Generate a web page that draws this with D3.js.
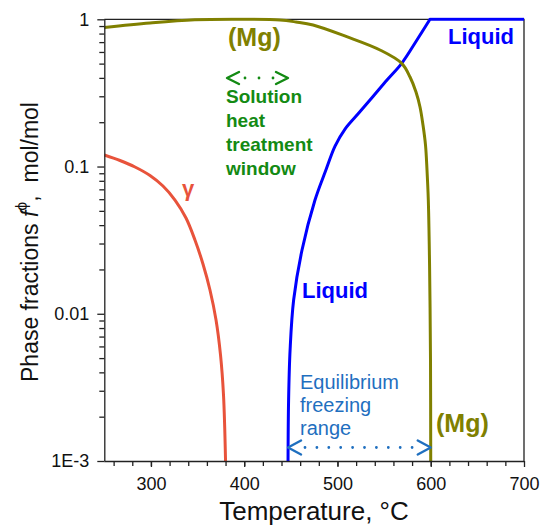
<!DOCTYPE html>
<html>
<head>
<meta charset="utf-8">
<script src="https://cdn.jsdelivr.net/npm/d3@7"></script>
<style>
  html, body { margin: 0; padding: 0; background: #fff; }
  svg { display: block; font-family: Arial, "Liberation Sans", Helvetica, sans-serif; }
</style>
</head>
<body>
<svg id="chart" width="541" height="525"></svg>
<script>
// Equilibrium phase fractions vs temperature (log scale)
const gammaT   = [250, 266.8, 282.9, 299.0, 312.9, 325.8, 337.6, 347.2, 355.8, 363.3, 369.8, 374.6, 377.8, 380];
const gammaF   = [0.1198, 0.1099, 0.0993, 0.0869, 0.0737, 0.0592, 0.0447, 0.0317, 0.02177, 0.0145, 0.00907, 0.00525, 0.00281, 0.001];

const liquidT  = [447, 447.6, 449.2, 453.0, 462.0, 475.9, 487.2, 497.4, 508.1, 523.1, 538.1, 553.1, 568.9, 584.2, 599.2, 700];
const liquidF  = [0.001, 0.0026, 0.00567, 0.0124, 0.0271, 0.0592, 0.0932, 0.1378, 0.1798, 0.2317, 0.299, 0.387, 0.5026, 0.7066, 1.0, 1.0];

const mgT      = [250, 299, 347, 395.5, 438.4, 455.5, 473.8, 509.9, 545.6, 568.9, 577.8, 584.2, 588.5, 591.7, 594.4, 596.0, 597.4, 598.5, 599.2, 599.75, 600];
const mgF      = [0.88, 0.944, 0.992, 1.0, 0.989, 0.959, 0.915, 0.762, 0.619, 0.502, 0.4055, 0.3208, 0.2537, 0.1914, 0.140, 0.0947, 0.0592, 0.0271, 0.0124, 0.00485, 0.001];

const xTicks      = [300, 400, 500, 600, 700];
const xMinorTicks = d3.range(260, 700, 20);
const yTicks      = [1, 0.1, 0.01, 0.001];
const yTickLabels = ["1", "0.1", "0.01", "1E-3"];

const svg = d3.select("#chart");
const pL = 104.3, pR = 524, pT = 19.3, pB = 461;

const x = d3.scaleLinear().domain([250, 700]).range([pL, pR]);
const y = d3.scaleLog().domain([0.001, 1]).range([pB, pT]);

svg.append("defs").append("clipPath").attr("id", "plot-clip")
  .append("rect").attr("x", pL).attr("y", pT - 2).attr("width", pR - pL).attr("height", pB - pT + 2);

// frame (top and right sides)
svg.append("path")
  .attr("d", `M${pL},${pT}H${pR}V${pB}`)
  .attr("fill", "none").attr("stroke", "#222").attr("stroke-width", 1.3);

// curves: smooth through the transition, straight once the fraction sits at 1
const smooth = d3.line().x(d => x(d[0])).y(d => y(d[1])).curve(d3.curveCatmullRom.alpha(0.5));
const straight = d3.line().x(d => x(d[0])).y(d => y(d[1]));
const curves = [
  { T: gammaT,  F: gammaF,  color: "#e8533b" },
  { T: liquidT, F: liquidF, color: "#0000ff" },
  { T: mgT,     F: mgF,     color: "#808000" }
];
const g = svg.append("g").attr("clip-path", "url(#plot-clip)");
curves.forEach(c => {
  const pts = c.T.map((t, i) => [t, c.F[i]]);
  let cut = pts.length;
  // trailing plateau at f = 1
  while (cut > 1 && pts[cut - 1][1] === 1 && pts[cut - 2][1] === 1) cut--;
  const head = pts.slice(0, cut), tail = pts.slice(cut - 1);
  const d = smooth(head) + (tail.length > 1 ? straight(tail).replace(/^M[^L]*/, "") : "");
  g.append("path")
    .attr("d", d)
    .attr("fill", "none")
    .attr("stroke", c.color)
    .attr("stroke-width", 3)
    .attr("stroke-linejoin", "round");
});

// x axis
const xMinorG = svg.append("g").attr("transform", `translate(0,${pB})`)
  .call(d3.axisBottom(x).tickValues(xMinorTicks).tickSize(5).tickFormat(""));
xMinorG.select(".domain").remove();
const xMajor = svg.append("g").attr("transform", `translate(0,${pB})`)
  .call(d3.axisBottom(x).tickValues(xTicks).tickSize(6).tickSizeOuter(0).tickPadding(10).tickFormat(d3.format("d")));
xMajor.select(".domain").attr("d", `M${pL},0.5H${pR}`).attr("stroke", "#222").attr("stroke-width", 1.3);
xMajor.selectAll("text").attr("font-size", 18).attr("fill", "#111").attr("font-family", "Arial, 'Liberation Sans', sans-serif");

// y axis
const minorY = [];
for (let e = -3; e < 0; e++) for (let m = 2; m <= 9; m++) minorY.push(m * Math.pow(10, e));
const yMinorG = svg.append("g").attr("transform", `translate(${pL},0)`)
  .call(d3.axisLeft(y).tickValues(minorY).tickSize(5).tickFormat(""));
yMinorG.select(".domain").remove();
const yMajor = svg.append("g").attr("transform", `translate(${pL},0)`)
  .call(d3.axisLeft(y).tickValues(yTicks).tickSize(7).tickSizeOuter(0).tickPadding(8)
    .tickFormat((d, i) => yTickLabels[i]));
yMajor.select(".domain").attr("d", `M0.5,${pT}V${pB}`).attr("stroke", "#222").attr("stroke-width", 1.3);
yMajor.selectAll("text").attr("font-size", 18).attr("fill", "#111").attr("font-family", "Arial, 'Liberation Sans', sans-serif");
svg.selectAll(".tick line").attr("stroke", "#222").attr("stroke-width", 1.3);

// axis titles
svg.append("text")
  .attr("x", 314).attr("y", 520)
  .attr("text-anchor", "middle").attr("font-size", 26).attr("fill", "#111")
  .text("Temperature, °C");

const yTitle = svg.append("text")
  .attr("transform", "translate(38,242) rotate(-90)")
  .attr("text-anchor", "middle").attr("font-size", 23).attr("fill", "#111")
  .style("white-space", "pre");
yTitle.append("tspan").text("Phase fractions ");
yTitle.append("tspan").attr("font-style", "italic").text("f");
yTitle.append("tspan").attr("dy", -11).attr("font-size", 16).text("ϕ");
yTitle.append("tspan").attr("dy", 11).text(",  mol/mol");

// curve labels
const label = (tx, ty, txt, color, size, weight) =>
  svg.append("text").attr("x", tx).attr("y", ty).attr("fill", color)
    .attr("font-size", size).attr("font-weight", weight).text(txt);

label(228, 46, "(Mg)", "#808000", 25, "bold");
label(436, 432, "(Mg)", "#808000", 25, "bold");
label(448, 44, "Liquid", "#0000ff", 22, "bold");
label(302, 298, "Liquid", "#0000ff", 22, "bold");
label(182, 196, "γ", "#e8533b", 22, "bold");

// solution heat treatment window
const green = "#138a13";
["Solution", "heat", "treatment", "window"].forEach((s, i) =>
  label(226, 103 + i * 24, s, green, 19, "bold"));

// equilibrium freezing range
const eqBlue = "#1f6fbf";
["Equilibrium", "freezing", "range"].forEach((s, i) =>
  label(300, 389 + i * 23, s, eqBlue, 20, "normal"));

// double-headed dotted arrows
function dottedArrow(x0, x1, yy, color, headW, headH, dotStart, dotEnd, gap) {
  const a = svg.append("g").attr("stroke", color).attr("fill", "none")
    .attr("stroke-width", 2.4).attr("stroke-linecap", "round").attr("stroke-linejoin", "round");
  a.append("line").attr("x1", dotStart).attr("x2", dotEnd + 0.5).attr("y1", yy).attr("y2", yy)
    .attr("stroke-dasharray", `0 ${gap}`).attr("stroke-width", 2.8);
  a.append("path").attr("d", `M${x0 + headW},${yy - headH}L${x0},${yy}L${x0 + headW},${yy + headH}`);
  a.append("path").attr("d", `M${x1 - headW},${yy - headH}L${x1},${yy}L${x1 - headW},${yy + headH}`);
}
dottedArrow(227, 288, 78, green, 12, 6, 245, 273, 14);
dottedArrow(x(447), x(600), 447.5, eqBlue, 13, 7, 305, 412, 11.9);
</script>
</body>
</html>
